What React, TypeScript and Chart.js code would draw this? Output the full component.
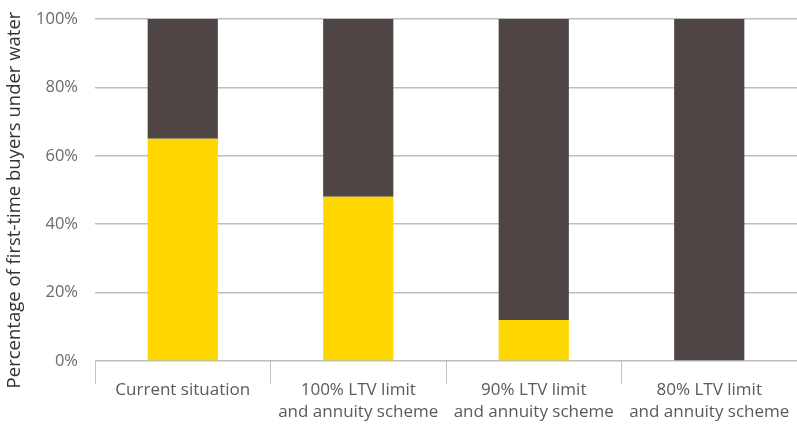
import React, { useEffect, useRef } from "react";
import { Chart, registerables } from "chart.js";

Chart.register(...registerables);

// Share of first-time buyers under water, per policy scenario (%)
const categories: string[][] = [
  ["Current situation"],
  ["100% LTV limit", "and annuity scheme"],
  ["90% LTV limit", "and annuity scheme"],
  ["80% LTV limit", "and annuity scheme"],
];
const underWater = [65, 48, 12, 0];
const notUnderWater = [35, 52, 88, 100];
const yTicks = [0, 20, 40, 60, 80, 100];
const yTitle = "Percentage of first-time buyers under water";

const YELLOW = "#FFD700";
const DARK = "#4F4545";
const FONT = "'Open Sans', sans-serif";

// Vertical axis title, drawn a little below the plot's vertical centre
const yTitlePlugin = {
  id: "yTitle",
  afterDraw(chart: any) {
    const { ctx } = chart;
    ctx.save();
    ctx.translate(15, 200);
    ctx.rotate(-Math.PI / 2);
    ctx.font = `18.5px ${FONT}`;
    ctx.fillStyle = "#333333";
    ctx.textAlign = "center";
    ctx.textBaseline = "middle";
    ctx.fillText(yTitle, 0, 0);
    ctx.restore();
  },
};

export default function App() {
  const canvasRef = useRef<HTMLCanvasElement | null>(null);

  useEffect(() => {
    const ctx = canvasRef.current;
    if (!ctx) return;
    const chart = new Chart(ctx, {
      type: "bar",
      data: {
        labels: categories,
        datasets: [
          {
            label: "Under water",
            data: underWater,
            backgroundColor: YELLOW,
            barPercentage: 0.4,
            categoryPercentage: 1,
          },
          {
            label: "Not under water",
            data: notUnderWater,
            backgroundColor: DARK,
            barPercentage: 0.4,
            categoryPercentage: 1,
          },
        ],
      },
      plugins: [yTitlePlugin],
      options: {
        animation: false,
        responsive: false,
        maintainAspectRatio: false,
        layout: { padding: { top: 0, right: 0, left: 0, bottom: 0 } },
        plugins: {
          legend: { display: false },
          tooltip: { enabled: false },
        },
        scales: {
          x: {
            stacked: true,
            border: { display: false },
            grid: {
              offset: true,
              drawOnChartArea: false,
              drawTicks: true,
              tickLength: 23,
              color: "#c4c4c4",
              lineWidth: 1,
            },
            ticks: {
              color: "#5a5a5a",
              font: { family: FONT, size: 17, lineHeight: 1.3 },
              padding: -5,
              maxRotation: 0,
              autoSkip: false,
            },
            afterFit: (scale: any) => {
              scale.height = 63;
            },
          },
          y: {
            stacked: true,
            min: 0,
            max: 100,
            border: { display: false },
            grid: {
              drawTicks: false,
              color: "#bdbdbd",
              lineWidth: 1.5,
            },
            afterBuildTicks: (scale: any) => {
              scale.ticks = yTicks.map((v) => ({ value: v }));
            },
            ticks: {
              color: "#6a6a6a",
              font: { family: FONT, size: 16.5 },
              padding: 17,
              callback: (v: any) => v + "%",
            },
            afterFit: (scale: any) => {
              scale.width = 95;
              scale.paddingTop = 19;
              scale.paddingBottom = 0;
            },
          },
        },
      },
    });
    return () => chart.destroy();
  }, []);

  return (
    <div style={{ position: "fixed", left: 0, top: 0, width: 797, height: 424, background: "#fff" }}>
      <canvas ref={canvasRef} width={797} height={424} style={{ display: "block" }} />
    </div>
  );
}
